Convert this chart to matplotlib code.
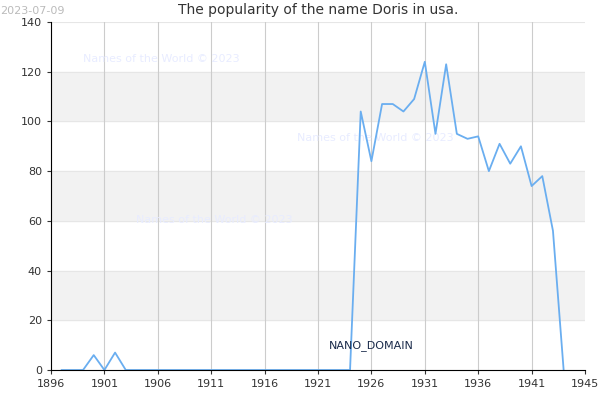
import matplotlib
matplotlib.use("Agg")
import matplotlib.pyplot as plt

years = list(range(1897, 1945))
values = [0, 0, 0, 6, 0, 7, 0] + [0]*21 + [104, 84, 107, 107, 104, 109, 124, 95, 123, 95, 93, 94, 80, 91, 83, 90, 74, 78, 56, 0]
xticks = list(range(1896, 1942, 5)) + [1946]
xlabels = [str(x) for x in range(1896, 1942, 5)] + ["1945"]
yticks = list(range(0, 141, 20))

fig = plt.figure(figsize=(6, 4), dpi=100)
ax = fig.add_axes([51/600, 30/400, 534/600, 348/400])
for lo in (20, 60, 100):
    ax.axhspan(lo, lo+20, color="#f2f2f2", zorder=0)
for y in yticks:
    ax.axhline(y, color="#e6e6e6", lw=0.8, zorder=0.5)
for x in xticks[:-1]:
    ax.axvline(x, color="#cccccc", lw=0.8, zorder=0.5)
ax.plot(years, values, color="#6aaef0", lw=1.3, zorder=2)
ax.set_xlim(1896, 1946)
ax.set_ylim(0, 140)
ax.set_xticks(xticks)
ax.set_xticklabels(xlabels)
ax.set_yticks(yticks)
ax.tick_params(labelsize=8, colors="#333333", length=3)
for s in ("top", "right"):
    ax.spines[s].set_visible(False)
ax.set_title("The popularity of the name Doris in usa.", fontsize=10, color="#333333", pad=6)
for (x, y) in [(1899, 124), (1919, 92), (1904, 59)]:
    ax.text(x, y, "Names of the World © 2023", fontsize=8, color="#e8ecff", zorder=1)
ax.text(1922, 9, "NANO_DOMAIN", fontsize=8, color="#1a2a4a", zorder=3)
fig.text(0.0, 0.985, "2023-07-09", fontsize=8, color="#bbbbbb", va="top")
fig.savefig("out.png")
